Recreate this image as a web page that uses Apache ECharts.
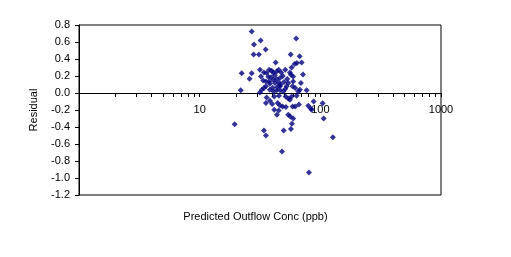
<!DOCTYPE html>
<html>
<head>
<meta charset="utf-8">
<script src="https://cdn.jsdelivr.net/npm/echarts@6/dist/echarts.min.js"></script>
<style>
html,body{margin:0;padding:0;background:#fff;}
#c{width:511px;height:257px;}
</style>
</head>
<body>
<div id="c"></div>
<script>
// Predicted outflow concentration (ppb)
const predicted = [
  27.0, 32.0, 28.2, 28.0, 31.0, 35.2, 63.1, 56.8, 67.4, 42.6,
  64.0, 61.2, 70.0, 57.8, 22.3, 27.0, 25.9, 31.6, 34.1, 35.9,
  37.7, 39.5, 40.7, 43.5, 45.2, 47.4, 51.2, 56.0, 57.1, 71.8,
  32.2, 33.6, 35.4, 37.7, 39.0, 40.7, 43.5, 46.3, 42.1, 45.2,
  46.9, 53.2, 54.2, 52.6, 59.6, 59.6, 69.1, 21.9, 31.6, 32.8,
  34.1, 35.4, 38.2, 40.3, 41.0, 43.5, 46.3, 46.3, 51.2, 49.3,
  58.9, 61.9, 65.6, 67.8, 77.0, 35.9, 41.5, 45.4, 51.6, 57.8,
  63.6, 38.2, 39.9, 35.4, 44.3, 46.3, 48.7, 51.9, 56.0, 54.2,
  58.9, 61.9, 66.5, 41.5, 45.2, 43.7, 54.2, 56.3, 59.6, 58.2,
  57.1, 49.7, 79.4, 83.2, 84.8, 88.0, 104.5, 106.5, 19.5, 34.1,
  35.4, 48.1, 80.5, 127.1, 37.1, 48.9, 44.0, 38.2, 50.0, 42.0
];
// Residuals
const residual = [
  0.725, 0.619, 0.572, 0.454, 0.454, 0.513, 0.642, 0.454, 0.431, 0.360,
  0.353, 0.341, 0.360, 0.301, 0.231, 0.231, 0.168, 0.274, 0.242, 0.235,
  0.274, 0.262, 0.242, 0.254, 0.274, 0.242, 0.274, 0.242, 0.215, 0.219,
  0.195, 0.148, 0.136, 0.136, 0.184, 0.156, 0.165, 0.176, 0.118, 0.125,
  0.101, 0.165, 0.118, 0.078, 0.195, 0.136, 0.118, 0.031, 0.007, 0.039,
  0.059, 0.078, 0.039, 0.062, 0.019, 0.031, 0.078, 0.031, 0.047, 0.019,
  0.078, 0.059, 0.019, 0.039, 0.031, -0.052, -0.040, -0.032, -0.040, -0.040,
  -0.032, -0.091, -0.129, -0.118, -0.118, -0.146, -0.158, -0.165, -0.079, -0.064,
  -0.158, -0.158, -0.134, -0.196, -0.205, -0.255, -0.255, -0.275, -0.299, -0.361,
  -0.424, -0.440, -0.149, -0.181, -0.196, -0.099, -0.122, -0.299, -0.369, -0.440,
  -0.499, -0.687, -0.934, -0.522, 0.190, 0.200, 0.070, 0.110, 0.130, 0.210
];
const yTicks = {min: -1.2, max: 0.8, step: 0.2};
const xRange = {min: 1, max: 1000};
const xTitle = 'Predicted Outflow Conc (ppb)';
const yTitle = 'Residual';

const font = 'Arial, "Liberation Sans", sans-serif';
const grid = {left: 79, right: 70, top: 25, bottom: 62};
const plotH = 257 - grid.top - grid.bottom;
// lift the x axis (line, ticks, labels) to the residual = 0 level
const zeroOffset = -plotH * (0 - yTicks.min) / (yTicks.max - yTicks.min);

const chart = echarts.init(document.getElementById('c'), null, {renderer: 'canvas'});
chart.setOption({
  animation: false,
  backgroundColor: '#fff',
  grid: Object.assign({show: true, borderColor: '#000', borderWidth: 1, backgroundColor: 'transparent'}, grid),
  xAxis: {
    type: 'log', logBase: 10, min: xRange.min, max: xRange.max,
    position: 'bottom', offset: zeroOffset,
    axisLine: {show: true, onZero: false, lineStyle: {color: '#000', width: 1}},
    axisTick: {show: true, inside: false, length: 4, lineStyle: {color: '#000'}},
    minorTick: {show: true, splitNumber: 9, length: 4, lineStyle: {color: '#000'}},
    splitLine: {show: false},
    minorSplitLine: {show: false},
    axisLabel: {color: '#000', fontFamily: font, fontSize: 11, margin: 11,
      formatter: v => (v === 1 ? '' : String(v))}
  },
  yAxis: {
    type: 'value', min: yTicks.min, max: yTicks.max, interval: yTicks.step,
    name: yTitle, nameLocation: 'middle', nameGap: 40,
    nameTextStyle: {color: '#000', fontFamily: font, fontSize: 11},
    axisLine: {show: true, lineStyle: {color: '#000'}},
    axisTick: {show: true, inside: false, length: 4, lineStyle: {color: '#000'}},
    splitLine: {show: false},
    axisLabel: {color: '#000', fontFamily: font, fontSize: 11, margin: 9,
      formatter: v => v.toFixed(1)}
  },
  graphic: [{
    type: 'text', left: 'center', top: 211,
    style: {text: xTitle, fill: '#000', font: '11px ' + font, textAlign: 'center'},
    x: 4
  }],
  series: [{
    type: 'scatter',
    symbol: 'diamond', symbolSize: 6,
    itemStyle: {color: '#000080'},
    data: predicted.map((x, i) => [x, residual[i]])
  }]
});
</script>
</body>
</html>
